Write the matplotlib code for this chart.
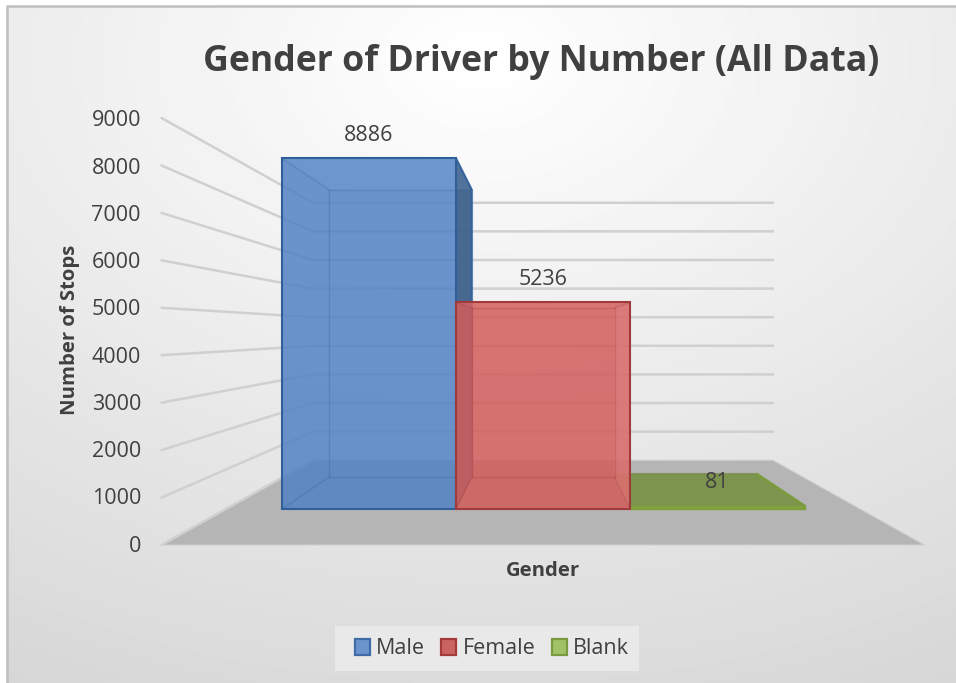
import numpy as np
import matplotlib
matplotlib.use('Agg')
import matplotlib.pyplot as plt
from matplotlib.patches import Polygon, Patch, Rectangle

plt.rcParams['font.family'] = ['Open Sans', 'DejaVu Sans']

# ---- data ----
categories = ['Male', 'Female', 'Blank']
stops = [8886, 5236, 81]
y_ticks = [0, 1000, 2000, 3000, 4000, 5000, 6000, 7000, 8000, 9000]
title = 'Gender of Driver by Number (All Data)'
x_title = 'Gender'
y_title = 'Number of Stops'

# ---- 3-D scale: (x 0..1 across the floor, value, depth scale) -> picture ----
VX, VY = 543.0, 331.5
FLOOR_W, FLOOR_H, V_SPAN = 763.0, 213.5, 427.0
V_MAX = 9000.0
S_BACK = 0.603
S_BAR_FRONT, S_BAR_BACK = 0.832, 0.682
BAR_W, BAR_X0 = 0.2745, 0.0885


def proj(x, v, s):
    return (VX + (x - 0.5) * FLOOR_W * s,
            VY + (FLOOR_H - v / V_MAX * V_SPAN) * s)


TXT = '#404040'
fig = plt.figure(figsize=(9.56, 6.83), dpi=100, facecolor='white')
ax = fig.add_axes([0, 0, 1, 1])

# chart-area gradient
yy, xx = np.mgrid[7:683:2, 8:956:2]
d = np.sqrt(((xx - 480) / 900.0) ** 2 + ((yy - 60) / 620.0) ** 2)
shade = 1.0 - 0.14 * d
ax.imshow(shade, cmap='gray', vmin=0, vmax=1, extent=(8, 956, 683, 7),
          aspect='auto', zorder=0, interpolation='bilinear')
ax.set_xlim(0, 956)
ax.set_ylim(683, 0)
ax.axis('off')
ax.plot([7, 7, 956], [683, 6, 6], color='#BFBFBF', lw=1.8, zorder=1)

# floor
floor = [proj(0, 0, 1), proj(1, 0, 1), proj(1, 0, S_BACK), proj(0, 0, S_BACK)]
ax.add_patch(Polygon(floor, closed=True, fc='#B5B5B5', ec='#CFCFCF', lw=0.8, zorder=2))

# gridlines
for t in y_ticks:
    pts = [proj(0, t, 1), proj(0, t, S_BACK), proj(1, t, S_BACK)]
    if t == 0:
        pts = pts[:2]
    ax.plot(*zip(*pts), color='#D0D0D0', lw=1.8, solid_capstyle='round',
            solid_joinstyle='round', zorder=3)
    ax.text(141, proj(0, t, 1)[1] + 1.0 + 2.0 * t / V_MAX, str(t), ha='right', va='center',
            fontsize=15.5, color=TXT, zorder=10)

# bars
styles = {
    'Male': dict(fc='#5182C3', ec='#2F5F9A', side='#3F618B', top='#7FA9DE', z=4),
    'Female': dict(fc='#D25D5B', ec='#A13A3A', side='#E28886', top='#E58B88', z=6),
    'Blank': dict(fc='#6F8C35', ec='#7A9C3A', side='#7F9B45', top='#6F8C35', z=5),
}
for i, (name, val) in enumerate(zip(categories, stops)):
    st = styles[name]
    x0 = BAR_X0 + i * BAR_W
    x1 = x0 + BAR_W
    z = st['z']
    fb = proj(x0, 0, S_BAR_FRONT); fr = proj(x1, 0, S_BAR_FRONT)
    ft = proj(x0, val, S_BAR_FRONT); frt = proj(x1, val, S_BAR_FRONT)
    bb = proj(x0, 0, S_BAR_BACK); br = proj(x1, 0, S_BAR_BACK)
    bt = proj(x0, val, S_BAR_BACK); brt = proj(x1, val, S_BAR_BACK)
    if name == 'Blank':
        ax.add_patch(Polygon([ft, frt, brt, bt], fc=st['fc'], alpha=0.8, ec='none', zorder=z))
        ax.plot(*zip(bt, brt), color='#6E8A3C', lw=1.5, alpha=0.7, zorder=z)
        ax.plot(*zip(brt, frt), color='#7C9A3E', lw=2, zorder=z)
        ax.add_patch(Polygon([fb, fr, frt, ft], fc='#83A53F', ec='#7F9F3C', lw=1, zorder=z))
    else:
        if name == 'Male':
            ax.add_patch(Polygon([fr, frt, brt, br], fc=st['side'], ec='none', alpha=0.95, zorder=z))
        else:
            ax.add_patch(Polygon([fr, frt, brt, br], fc=st['side'], ec='none', alpha=0.4, zorder=z + 1))
        ax.add_patch(Polygon([fb, fr, frt, ft], fc=st['fc'], ec='none', alpha=0.85, zorder=z))
        ax.add_patch(Polygon([ft, frt, brt, bt], fc=st['top'], ec='none', alpha=0.15, zorder=z))
        for a, b in [(ft, bt), (bt, brt), (bb, bt), (bb, br), (fb, bb), (fr, br), (frt, brt), (br, brt)]:
            ax.plot(*zip(a, b), color=st['ec'], lw=1.0, alpha=0.28, zorder=z + 1)
        ax.add_patch(Polygon([fb, fr, frt, ft], fill=False, ec=st['ec'], lw=1.5, zorder=z + 1))
        if name == 'Male':
            ax.plot(*zip(frt, brt, br), color=st['ec'], lw=1.5, alpha=0.9, zorder=z + 1)
    lab_x = (fb[0] + fr[0]) / 2
    lab_y = ft[1] - 22.5
    if name == 'Blank':
        lab_y = 482
    ax.text(lab_x, lab_y, str(val), ha='center', va='center', fontsize=15.5,
            color=TXT, zorder=12)

# titles
ax.text(541.5, 61.5, title, ha='center', va='center', fontsize=25.7, fontweight='bold',
        color=TXT, zorder=12)
ax.text(70, 330, y_title, rotation=90, ha='center', va='center', fontsize=14.6,
        fontweight='bold', color=TXT, zorder=12)
ax.text(543, 571.5, x_title, ha='center', va='center', fontsize=14.6,
        fontweight='bold', color=TXT, zorder=12)

# legend
ax.add_patch(Rectangle((335, 626), 304, 45, fc='#E9E9E9', ec='none', zorder=8))
leg_styles = [('#6A95CC', '#3F6CA8'), ('#C96462', '#A43B3A'), ('#A2C266', '#7A9A3D')]
handles = [Patch(fc=f, ec=e, lw=1.6, label=c) for c, (f, e) in zip(categories, leg_styles)]
leg = ax.legend(handles=handles, ncol=3, loc='center', frameon=False,
                bbox_to_anchor=(492 / 956, 1 - 649 / 683), bbox_transform=fig.transFigure,
                fontsize=15.5, handlelength=0.7, handleheight=0.7, handletextpad=0.3,
                columnspacing=0.75, labelcolor=TXT)
leg.set_zorder(12)

fig.savefig('out.png', dpi=100)
